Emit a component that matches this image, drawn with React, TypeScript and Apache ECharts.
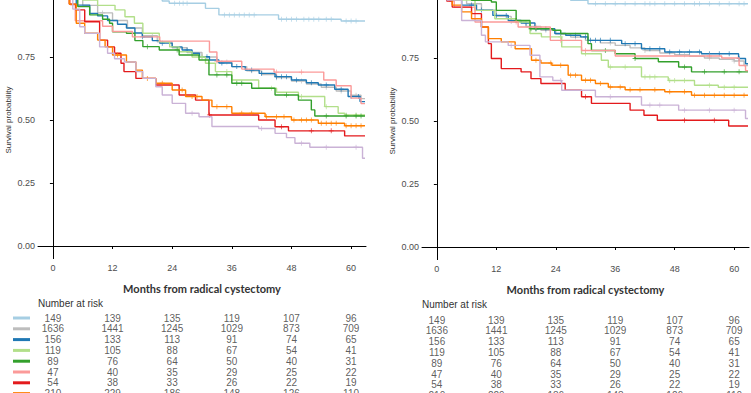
import React, { useEffect, useRef } from "react";
import * as echarts from "echarts";

// ---------- data ----------
const groupNames = ["Group 1", "Group 2", "Group 3", "Group 4", "Group 5", "Group 6", "Group 7", "Group 8", "Group 9"];
const groupColors = ["#A6CEE3", "#BDBDBD", "#1F78B4", "#B2DF8A", "#33A02C", "#FB9A99", "#E31A1C", "#FF7F00", "#CAB2D6"];
const monthTicks = [0, 12, 24, 36, 48, 60];
const probTicks = [0, 0.25, 0.5, 0.75];

// Panel A curves [month, survival]
const lightBlueA = [[0, 1], [4, 0.993], [9, 0.986], [15, 0.98], [22, 0.972], [23.4, 0.963], [30.7, 0.943], [33.4, 0.917], [45.4, 0.9], [58, 0.893], [62.8, 0.893]];
const grayA = [[0, 1], [3, 0.98], [6, 0.955], [9, 0.925], [12, 0.895], [15, 0.865], [18, 0.835], [21, 0.81], [24, 0.787], [27, 0.768], [30, 0.75], [33, 0.73], [36, 0.712], [39, 0.695], [42, 0.68], [45, 0.668], [48, 0.655], [51, 0.643], [54, 0.63], [57, 0.615], [60, 0.598], [62, 0.585], [62.8, 0.585]];
const blueA = [[0, 1], [2, 0.985], [4.7, 0.956], [7.4, 0.923], [9, 0.913], [11, 0.895], [13, 0.88], [14.8, 0.865], [16.5, 0.845], [18, 0.83], [20, 0.815], [21.5, 0.805], [24, 0.79], [26, 0.778], [28, 0.765], [29.5, 0.751], [31.5, 0.738], [33.4, 0.726], [36, 0.712], [38.7, 0.698], [41.5, 0.685], [44.7, 0.672], [48, 0.659], [51, 0.648], [53.4, 0.639], [56.7, 0.622], [59.4, 0.593], [61.8, 0.573], [62.8, 0.573]];
const lightGreenA = [[0, 1], [3, 0.99], [6, 0.976], [9, 0.955], [12.5, 0.937], [14.5, 0.91], [16.4, 0.884], [18.1, 0.844], [21.4, 0.81], [23.5, 0.79], [25.4, 0.771], [28, 0.75], [30.7, 0.725], [32.7, 0.692], [36, 0.659], [41.4, 0.626], [45, 0.61], [49.4, 0.593], [54.7, 0.553], [57.4, 0.527], [58.7, 0.52], [62.8, 0.52]];
const greenA = [[0, 1], [3, 0.985], [5, 0.95], [7.4, 0.917], [10, 0.9], [11.4, 0.884], [12, 0.85], [14.8, 0.844], [16.5, 0.815], [18.1, 0.791], [21.4, 0.778], [25.4, 0.758], [29.4, 0.738], [31.4, 0.679], [36, 0.646], [40, 0.626], [44.7, 0.599], [49.4, 0.579], [52, 0.54], [52.7, 0.516], [62.8, 0.516]];
const pinkA = [[0, 1], [2.5, 0.979], [3.5, 0.957], [4.5, 0.894], [10, 0.872], [12, 0.851], [16, 0.83], [21.5, 0.813], [31.5, 0.77], [33, 0.733], [38, 0.702], [44.5, 0.69], [54.5, 0.659], [57, 0.636], [60, 0.587], [62, 0.565], [62.8, 0.565]];
const redA = [[0, 1], [2, 0.98], [3.3, 0.96], [4.6, 0.937], [6.4, 0.89], [9.4, 0.817], [11, 0.79], [12.4, 0.765], [13.7, 0.725], [14.3, 0.692], [16.7, 0.665], [20.7, 0.639], [25.4, 0.599], [28.7, 0.579], [31.4, 0.52], [41.4, 0.5], [44.7, 0.473], [47.4, 0.457], [58.7, 0.437], [62.8, 0.437]];
const orangeA = [[0, 1], [2, 0.985], [3.3, 0.96], [4.7, 0.884], [6.4, 0.844], [9, 0.817], [10.5, 0.79], [12, 0.758], [14.8, 0.73], [16.7, 0.698], [18, 0.665], [20.7, 0.646], [24, 0.619], [26.7, 0.593], [30, 0.579], [32, 0.553], [36, 0.527], [42.7, 0.513], [48, 0.5], [53.4, 0.487], [58.7, 0.477], [62.8, 0.477]];
const lavenderA = [[0, 1], [2, 0.98], [4, 0.94], [5.4, 0.87], [6.4, 0.844], [9.4, 0.79], [11, 0.765], [12.4, 0.743], [14.4, 0.73], [16.7, 0.692], [18.1, 0.665], [20.7, 0.632], [22, 0.599], [24, 0.566], [26.7, 0.527], [29.4, 0.513], [32, 0.474], [41.4, 0.466], [44.7, 0.447], [47, 0.43], [48.7, 0.408], [51.7, 0.392], [62.3, 0.348], [62.8, 0.348]];

// Panel B curves
const lightBlueB = [[0, 1], [5, 0.995], [12, 0.99], [20, 0.985], [27, 0.979], [30.5, 0.965], [62.8, 0.965]];
const grayB = [[0, 1], [3, 0.985], [6, 0.965], [9, 0.94], [12, 0.915], [15, 0.895], [18, 0.875], [21, 0.86], [24, 0.845], [27, 0.833], [30, 0.82], [33, 0.81], [36, 0.8], [39, 0.79], [42, 0.78], [45, 0.77], [48, 0.763], [51, 0.757], [54, 0.75], [57, 0.745], [60, 0.738], [62, 0.72], [62.8, 0.72]];
const blueB = [[0, 1], [3, 0.985], [5, 0.96], [8, 0.94], [11.3, 0.919], [14.4, 0.899], [17, 0.889], [19.8, 0.866], [23.8, 0.847], [26, 0.84], [29, 0.834], [30.5, 0.82], [37.3, 0.807], [41.3, 0.787], [46, 0.774], [53.4, 0.767], [60.9, 0.748], [62.3, 0.727], [62.8, 0.727]];
const lightGreenB = [[0, 1], [3, 0.98], [7.7, 0.939], [11.7, 0.906], [16, 0.893], [18.8, 0.847], [21.1, 0.834], [25.2, 0.794], [29.2, 0.767], [33.2, 0.741], [34.6, 0.714], [41.3, 0.675], [46.7, 0.661], [52, 0.642], [56.8, 0.634], [62.8, 0.634]];
const greenB = [[0, 1], [3, 0.99], [7, 0.979], [11, 0.972], [12, 0.939], [16, 0.899], [18.8, 0.866], [23.4, 0.86], [25, 0.847], [30.5, 0.807], [31.2, 0.78], [36, 0.767], [40, 0.748], [44.7, 0.735], [48.8, 0.714], [51.4, 0.695], [62.8, 0.695]];
const pinkB = [[0, 1], [2.5, 0.976], [3.5, 0.952], [7.7, 0.893], [16.4, 0.873], [22.9, 0.82], [29.2, 0.78], [36, 0.758], [57.5, 0.75], [61, 0.72], [62.3, 0.7], [62.8, 0.7]];
const redB = [[0, 1], [2, 0.976], [3.1, 0.952], [7, 0.926], [9, 0.873], [10.4, 0.807], [11, 0.748], [13, 0.708], [17, 0.695], [19, 0.668], [21, 0.649], [25.9, 0.622], [29.2, 0.596], [31.2, 0.57], [39, 0.543], [41.8, 0.523], [44.5, 0.503], [58.9, 0.48], [62.8, 0.48]];
const orangeB = [[0, 1], [2, 0.985], [3.1, 0.96], [5, 0.933], [7, 0.906], [9, 0.873], [10.4, 0.827], [13, 0.814], [15.8, 0.787], [19.1, 0.741], [21, 0.73], [23.2, 0.721], [26.5, 0.682], [29.2, 0.662], [32, 0.649], [34.6, 0.635], [38, 0.624], [46, 0.616], [51.4, 0.602], [62.8, 0.602]];
const lavenderB = [[0, 1], [2, 0.98], [5, 0.899], [9, 0.84], [9.8, 0.814], [14.4, 0.8], [18.8, 0.761], [20.8, 0.675], [23.4, 0.661], [25.2, 0.622], [32, 0.596], [41.3, 0.563], [48.8, 0.543], [62.3, 0.51], [62.8, 0.51]];

// censoring times (months)
const censorA = [
  [24.5, 25.5, 26.2, 27, 34.5, 35.5, 36.5, 37.5, 38.5, 39.5, 40.5, 46, 47, 48, 49, 50.5, 51.5, 52.5, 53.5, 55, 56, 59, 60, 61],
  [10, 20, 30, 35, 40, 45, 50, 55, 58, 61],
  [18, 22, 27, 31, 34, 37, 40, 42, 45, 46, 47, 49, 52, 55, 58, 60, 61.5],
  [30, 35, 44, 50, 55, 59, 61],
  [19, 25, 33, 35, 37, 38, 47, 55, 59, 61, 62],
  [33, 45, 50],
  [31.5, 46, 52, 56],
  [13, 19, 22, 26, 28, 29, 33, 35, 38, 40, 43, 45, 46.5, 48.5, 50, 51, 52, 54, 55, 56, 57, 59, 60, 61, 62],
  [28, 42, 50, 55, 61],
];
const censorB = [
  [32, 34, 36, 38, 40, 42, 43, 44, 46, 48, 50, 52, 53, 55, 57, 59, 61, 62],
  [15, 22, 28, 35, 42, 50, 55, 60],
  [7, 9, 12, 14, 16, 18, 20, 22, 25, 28, 30, 31, 32, 33, 35, 38, 40, 43, 45, 47, 49, 51, 53, 55, 57, 59, 61],
  [25, 30, 35, 38, 42, 43, 44, 47, 48, 50, 55, 58, 60],
  [16, 19, 20, 34, 40, 50, 54, 58, 61],
  [16, 20, 25, 30, 55],
  [30, 50, 56],
  [20, 23, 25, 27, 28, 30, 31, 33, 35, 37, 39, 41, 44, 47, 50, 52, 54, 56, 58, 60, 62],
  [15, 25, 35, 43, 45, 50, 55, 60],
];

const curvesA = [lightBlueA, grayA, blueA, lightGreenA, greenA, pinkA, redA, orangeA, lavenderA];
const curvesB = [lightBlueB, grayB, blueB, lightGreenB, greenB, pinkB, redB, orangeB, lavenderB];

// number at risk (same table under both panels)
const riskRows = [
  [149, 139, 135, 119, 107, 96],
  [1636, 1441, 1245, 1029, 873, 709],
  [156, 133, 113, 91, 74, 65],
  [119, 105, 88, 67, 54, 41],
  [89, 76, 64, 50, 40, 31],
  [47, 40, 35, 29, 25, 22],
  [54, 38, 33, 26, 22, 19],
  [210, 229, 186, 148, 126, 110],
];

// ---------- helpers ----------
const stepAt = (curve: number[][], t: number) => {
  let v = curve[0][1];
  for (const p of curve) {
    if (p[0] <= t) v = p[1];
    else break;
  }
  return v;
};

const PLUS = "path://M0.42,0H0.58V0.42H1V0.58H0.58V1H0.42V0.58H0V0.42H0.42Z";

function buildPanel(
  pi: number,
  curves: number[][][],
  censors: number[][],
  left: number,
  width: number,
  plotTop: number,
  plotHeight: number,
  tableTop: number,
  showLegend: boolean
) {
  const grids = [
    { left, width, top: plotTop, height: plotHeight, containLabel: false, outerBoundsMode: "none" },
    { left, width, top: tableTop, height: riskRows.length * 10.8, containLabel: false, outerBoundsMode: "none" },
  ];
  const gi = pi * 2;
  const xAxes = [
    {
      gridIndex: gi,
      type: "value",
      min: -3,
      max: 63,
      splitLine: { show: false },
      axisLine: { show: true, lineStyle: { color: "#000", width: 1 } },
      axisTick: { show: true, customValues: monthTicks, length: 3, lineStyle: { color: "#000" } },
      axisLabel: { customValues: monthTicks, color: "#4d4d4d", fontSize: 9, fontFamily: "Arial", margin: 5 },
      name: "Months from radical cystectomy",
      nameLocation: "middle",
      nameGap: 24,
      nameTextStyle: { fontWeight: "bold", fontSize: 11, fontFamily: "Lato", color: "#333" },
    },
    { gridIndex: gi + 1, type: "value", min: -3, max: 63, show: false },
  ];
  const rich: any = {};
  groupColors.forEach((c, i) => {
    rich["s" + i] = { width: 17, height: 3, backgroundColor: c };
  });
  const yAxes = [
    {
      gridIndex: gi,
      type: "value",
      min: -0.05,
      max: 1.05,
      splitLine: { show: false },
      axisLine: { show: true, lineStyle: { color: "#000", width: 1 } },
      axisTick: { show: true, customValues: probTicks, length: 3, lineStyle: { color: "#000" } },
      axisLabel: {
        customValues: probTicks,
        formatter: (v: number) => v.toFixed(2),
        color: "#4d4d4d",
        fontSize: 9,
        fontFamily: "Arial",
        margin: 3,
      },
      name: "Survival probability",
      nameLocation: "middle",
      nameGap: 26,
      nameTextStyle: { fontSize: 8, fontFamily: "Arial", color: "#333" },
    },
    {
      gridIndex: gi + 1,
      type: "category",
      inverse: true,
      data: groupNames.slice(0, riskRows.length),
      axisLine: { show: false },
      axisTick: { show: false },
      splitLine: { show: false },
      axisLabel: showLegend
        ? { show: true, interval: 0, margin: 8, formatter: (_v: string, i: number) => `{s${i}| }`, rich }
        : { show: false },
    },
  ];
  const series: any[] = [];
  curves.forEach((curve, i) => {
    series.push({
      type: "line",
      xAxisIndex: gi,
      yAxisIndex: gi,
      step: "end",
      data: curve,
      showSymbol: false,
      symbol: "none",
      lineStyle: { color: groupColors[i], width: 1.4 },
      silent: true,
      z: 2 + i,
    });
    series.push({
      type: "scatter",
      xAxisIndex: gi,
      yAxisIndex: gi,
      data: censors[i].map((t) => [t, stepAt(curve, t)]),
      symbol: PLUS,
      symbolSize: 5,
      itemStyle: { color: groupColors[i] },
      silent: true,
      z: 2 + i,
    });
  });
  const tableData: any[] = [];
  riskRows.forEach((row, r) => row.forEach((v, c) => tableData.push([monthTicks[c], r, v])));
  series.push({
    type: "scatter",
    xAxisIndex: gi + 1,
    yAxisIndex: gi + 1,
    data: tableData,
    symbolSize: 1,
    itemStyle: { color: "rgba(0,0,0,0)" },
    label: {
      show: true,
      position: "inside",
      formatter: (p: any) => String(p.value[2]),
      color: "#333",
      fontSize: 10,
      fontFamily: "Arial",
    },
    silent: true,
  });
  return { grids, xAxes, yAxes, series };
}

export default function App() {
  const ref = useRef<HTMLDivElement>(null);
  useEffect(() => {
    if (!ref.current) return;
    const chart = echarts.init(ref.current, undefined, { renderer: "svg" });
    const a = buildPanel(0, curvesA, censorA, 38, 328, -18.6, 277.2, 312.6, true);
    const b = buildPanel(1, curvesB, censorB, 422, 327, -17.6, 277.2, 314.6, false);
    chart.setOption({
      animation: false,
      backgroundColor: "#fff",
      grid: [...a.grids, ...b.grids],
      xAxis: [...a.xAxes, ...b.xAxes],
      yAxis: [...a.yAxes, ...b.yAxes],
      series: [...a.series, ...b.series],
      graphic: [
        { type: "text", left: 38, top: 298, style: { text: "Number at risk", fontSize: 10, fontFamily: "Arial", fill: "#333" } },
        { type: "text", left: 422, top: 299, style: { text: "Number at risk", fontSize: 10, fontFamily: "Arial", fill: "#333" } },
      ],
    });
    return () => chart.dispose();
  }, []);
  return (
    <div
      ref={ref}
      style={{ position: "fixed", left: 0, top: 0, width: 751, height: 393, background: "#fff" }}
    />
  );
}
